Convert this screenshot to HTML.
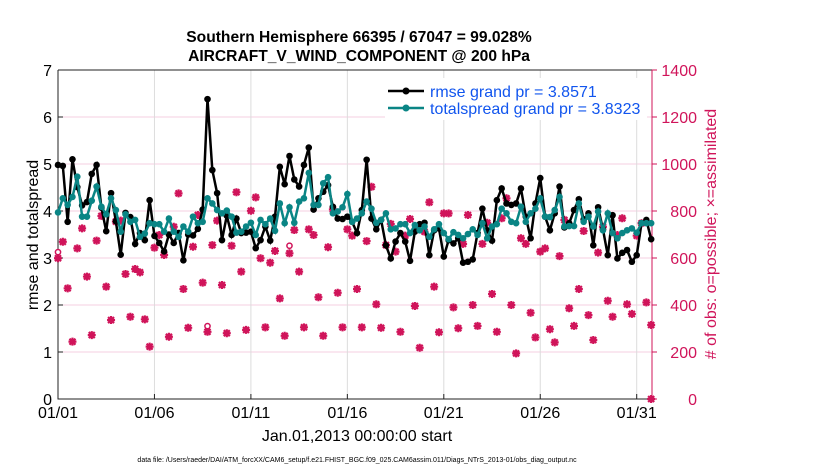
<!DOCTYPE html>
<html><head><meta charset="utf-8"><style>
body{margin:0;background:#fff;width:830px;height:470px;overflow:hidden}
svg{font-family:"Liberation Sans",sans-serif}
</style></head><body>
<svg id="chart" width="830" height="470">
<text x="359" y="42" text-anchor="middle" font-size="15.6" font-weight="bold">Southern Hemisphere 66395 / 67047 = 99.028%</text>
<text x="359" y="61" text-anchor="middle" font-size="15.6" font-weight="bold">AIRCRAFT_V_WIND_COMPONENT @ 200 hPa</text>
<g id="grid"></g>
<g id="axes"></g>
<g id="marks"></g>
<text x="38" y="235" text-anchor="middle" font-size="16" transform="rotate(-90 38 235)">rmse and totalspread</text>
<text x="716" y="234" text-anchor="middle" font-size="16" fill="#d0145a" transform="rotate(-90 716 234)"># of obs: o=possible; ×=assimilated</text>
<text x="357" y="441" text-anchor="middle" font-size="16">Jan.01,2013 00:00:00 start</text>
<text x="357" y="462" text-anchor="middle" font-size="7">data file: /Users/raeder/DAI/ATM_forcXX/CAM6_setup/f.e21.FHIST_BGC.f09_025.CAM6assim.011/Diags_NTrS_2013-01/obs_diag_output.nc</text>
<g>
<rect x="385" y="78" width="262" height="42" fill="#fff"/>
<line x1="388" y1="91" x2="424" y2="91" stroke="#000" stroke-width="2.5"/>
<circle cx="406" cy="91" r="3.5" fill="#000"/>
<text x="430" y="97" font-size="16" fill="#1155ee">rmse grand pr = 3.8571</text>
<line x1="388" y1="108" x2="424" y2="108" stroke="#0a8585" stroke-width="2.5"/>
<circle cx="406" cy="108" r="3.5" fill="#0a8585"/>
<text x="430" y="114" font-size="16" fill="#1155ee">totalspread grand pr = 3.8323</text>
</g>
</svg>
<script>
const rmse=[4.98,4.96,3.77,5.1,4.51,4.12,4.19,4.79,4.98,4.07,3.57,4.38,3.78,3.07,3.96,3.87,3.3,3.53,3.38,4.23,3.47,3.32,3.14,3.5,3.32,3.53,2.95,3.5,3.48,3.62,4.03,6.38,
4.87,4.38,3.38,3.9,3.49,3.84,3.53,3.54,3.56,3.21,3.38,3.67,3.37,3.88,4.94,4.57,5.17,4.67,4.52,4.98,5.35,4.03,4.27,4.41,4.55,4.09,3.84,3.83,3.88,3.77,
3.53,4.02,5.09,3.84,3.61,3.81,3.27,2.99,3.35,3.53,3.35,2.94,3.56,3.72,3.75,3.06,3.59,3.63,3.03,3.38,3.31,3.42,2.9,2.92,2.97,3.53,4.05,3.59,3.37,4.23,4.48,4.16,
4.13,4.16,4.48,3.88,3.42,4.16,4.7,3.88,3.59,3.95,4.52,3.65,3.74,4.02,4.25,3.82,3.95,3.27,4.08,3.61,3.06,3.91,2.99,3.11,3.17,2.92,3.06,3.74,3.81,3.4];
const spread=[3.97,4.27,4.13,4.3,4.73,3.88,3.88,4.22,4.52,4.09,3.93,4.27,4.02,3.56,3.93,3.77,3.81,3.45,3.52,3.74,3.72,3.72,3.56,3.84,3.56,3.45,3.67,3.56,3.88,3.74,3.77,4.27,
4.16,4.02,3.95,4.01,3.88,3.54,3.56,3.67,3.75,3.49,3.81,3.72,3.84,3.58,4.16,3.74,4.08,3.75,4.2,4.27,4.81,4.13,4.13,4.59,4.72,3.95,3.99,4.08,4.36,3.77,
3.84,3.95,4.2,4.05,3.75,3.81,3.95,3.61,3.63,3.72,3.72,3.53,3.7,3.59,3.67,3.45,3.61,3.72,3.53,3.4,3.55,3.49,3.42,3.51,3.61,3.49,3.74,3.42,3.67,3.72,4.05,3.95,
3.77,3.74,4.09,3.77,3.95,4.05,4.27,3.88,3.87,4.02,4.3,3.67,3.68,3.68,4.16,3.77,3.88,3.67,3.99,3.59,3.95,3.53,3.42,3.53,3.59,3.63,3.54,3.74,3.74,3.74];
const nAssim=[599,669,471,244,641,726,521,272,674,779,478,336,755,759,532,350,553,539,339,223,644,698,613,265,733,875,468,303,648,783,495,286,
655,759,485,280,652,880,542,294,801,858,599,305,580,630,428,269,620,719,542,305,722,698,433,269,646,807,452,305,722,695,
468,305,672,903,403,303,655,745,627,286,695,766,396,218,712,837,478,284,790,790,390,301,660,783,400,311,660,750,447,286,769,854,
400,194,684,660,367,262,627,641,297,241,608,762,386,311,468,715,357,251,623,733,418,350,698,769,403,362,695,748,411,315];
const nPossible=nAssim.map(v=>v);
nPossible[0]=625;nPossible[31]=310;nPossible[48]=652;
const extraTimes=[123];
const extraCounts=[0];
const xTickLabels=["01/01","01/06","01/11","01/16","01/21","01/26","01/31"];
const xTickDays=[0,5,10,15,20,25,30];
const leftTicks=[0,1,2,3,4,5,6,7];
const rightTicks=[0,200,400,600,800,1000,1200,1400];

const NS="http://www.w3.org/2000/svg";
const X0=58,X1=652,Y0=399,Y1=70;
const dayPx=19.29;
const xDay=d=>X0+d*dayPx;
const xIdx=i=>xDay(i*0.25);
const yL=v=>Y0-(v/7)*(Y0-Y1);
const yR=v=>Y0-(v/1400)*(Y0-Y1);
function mk(tag,attrs,parent){const e=document.createElementNS(NS,tag);for(const k in attrs)e.setAttribute(k,attrs[k]);parent.appendChild(e);return e;}
const grid=document.getElementById('grid'),axes=document.getElementById('axes'),marks=document.getElementById('marks');
const MAG="#d0145a",TEAL="#0a8585";

rightTicks.forEach(t=>{
  const l=mk('line',{x1:X0,x2:X1,y1:yR(t),y2:yR(t),stroke:"#f5cfe0","stroke-width":1},grid);
  
  
});
xTickDays.forEach((d,k)=>{
  const l=mk('line',{x1:xDay(d),x2:xDay(d),y1:Y1,y2:Y0,stroke:"#dcdcdc","stroke-width":1},grid);
  
  
  const t=mk('line',{x1:xDay(d),x2:xDay(d),y1:Y0,y2:Y0-5,stroke:"#222"},axes);
  
  
  const tx=mk('text',{x:xDay(d),y:418,"text-anchor":"middle","font-size":16},axes);
  tx.textContent=xTickLabels[k];
  
  
});
leftTicks.forEach(t=>{
  const tk=mk('line',{x1:X0,x2:X0+5,y1:yL(t),y2:yL(t),stroke:"#222"},axes);
  
  
  const tx=mk('text',{x:X0-6,y:yL(t)+6,"text-anchor":"end","font-size":16},axes);
  tx.textContent=t;
  
  
});
rightTicks.forEach(t=>{
  const tk=mk('line',{x1:X1,x2:X1+5,y1:yR(t),y2:yR(t),stroke:MAG},axes);
  
  
  const tx=mk('text',{x:697,y:yR(t)+6,"text-anchor":"end","font-size":16,fill:MAG},axes);
  tx.textContent=t;
  
  
});
const frame=mk('path',{d:`M${X0},${Y1}H${X1}M${X0},${Y1}V${Y0}H${X1}`,stroke:"#222",fill:"none","stroke-width":1},axes);


const ra=mk('line',{x1:X1,x2:X1,y1:Y1,y2:Y0,stroke:MAG,"stroke-width":1},axes);



function obsMarker(x,y,name){
  const g=mk('g',{},marks);
  
  
  mk('path',{d:`M${x-4},${y}H${x+4}M${x},${y-4}V${y+4}M${x-3},${y-3}L${x+3},${y+3}M${x-3},${y+3}L${x+3},${y-3}`,stroke:MAG,"stroke-width":2.2},g);
  mk('circle',{cx:x,cy:y,r:2.5,fill:MAG},g);
}
nAssim.forEach((v,i)=>{obsMarker(xIdx(i),yR(v),'obs-assimilated-marker');});
extraTimes.forEach((t,k)=>{obsMarker(xIdx(t),yR(extraCounts[k]),'obs-assimilated-marker');});
nPossible.forEach((v,i)=>{
  if(v!==nAssim[i]){
    const c=mk('circle',{cx:xIdx(i),cy:yR(v),r:2.6,fill:"#fff",stroke:MAG,"stroke-width":1.5},marks);
    
    
  }
});
function series(vals,color,name){
  const p=mk('polyline',{points:vals.map((v,i)=>xIdx(i)+","+yL(v)).join(" "),fill:"none",stroke:color,"stroke-width":2.5},marks);
  
  
  vals.forEach((v,i)=>{
    const c=mk('circle',{cx:xIdx(i),cy:yL(v),r:3.3,fill:color},marks);
    
    
  });
}
series(rmse,"#000",'rmse');
series(spread,TEAL,'totalspread');
</script>
</body></html>
